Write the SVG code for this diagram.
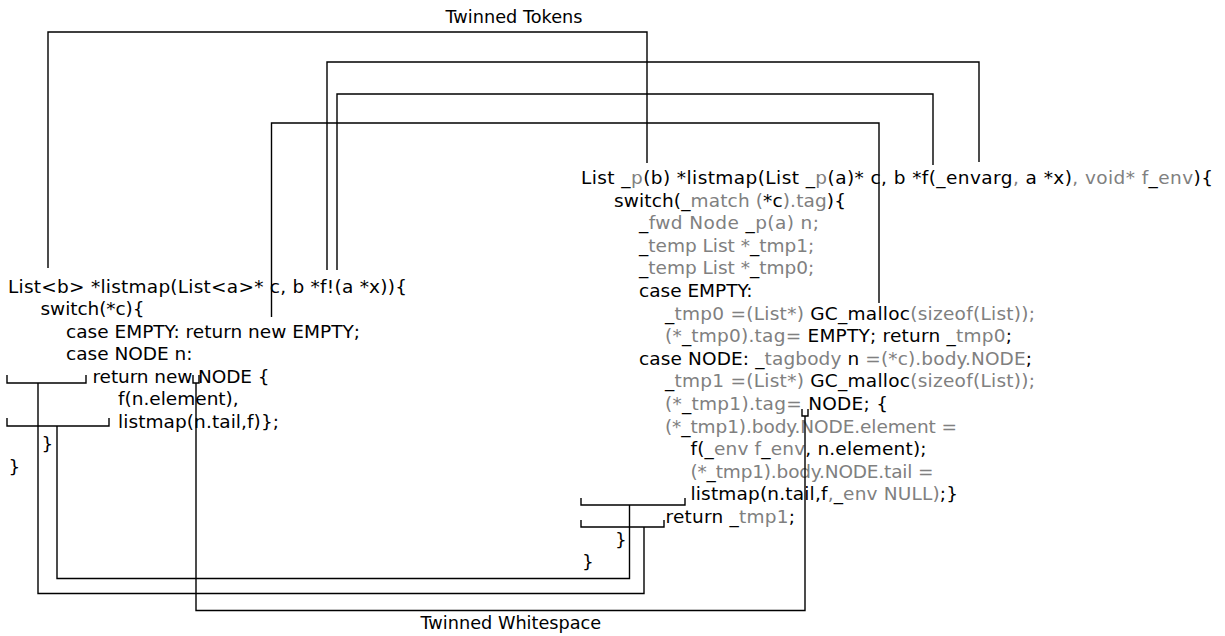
<svg xmlns="http://www.w3.org/2000/svg" width="1225" height="636" viewBox="0 0 1225 636">
  <style>
    text { font-family: "DejaVu Sans", Verdana, sans-serif; font-size: 18.5px; fill: #000; white-space: pre; }
    .lbl { font-size: 17.7px; }
    .g { fill: #808080; }
    .wire { fill: none; stroke: #000; stroke-width: 1.4; }
  </style>
  <rect width="1225" height="636" fill="#fff"/>

  <!-- source function -->
  <g id="source">
    <text x="8" y="292.5" textLength="399" lengthAdjust="spacing">List&lt;b&gt; *listmap(List&lt;a&gt;* c, b *f!(a *x)){</text>
    <text x="40.5" y="315" textLength="104" lengthAdjust="spacing">switch(*c){</text>
    <text x="66" y="337.5" textLength="294" lengthAdjust="spacing">case EMPTY: return new EMPTY;</text>
    <text x="66" y="360">case NODE n:</text>
    <text x="92.5" y="382.5" textLength="177" lengthAdjust="spacing">return new NODE {</text>
    <text x="118" y="405">f(n.element),</text>
    <text x="118" y="427.5" textLength="161" lengthAdjust="spacing">listmap(n.tail,f)};</text>
    <text x="41.5" y="450">}</text>
    <text x="8.5" y="472.5">}</text>
  </g>

  <!-- generated C function -->
  <g id="generated">
    <text x="581" y="184" textLength="632" lengthAdjust="spacing">List _<tspan class="g">p</tspan>(b) *listmap(List _<tspan class="g">p</tspan>(a)* c, b *f(_envarg<tspan class="g">,</tspan> a *x)<tspan class="g">, void* f</tspan>_<tspan class="g">env</tspan>){</text>
    <text x="614" y="206.6" textLength="232" lengthAdjust="spacing">switch(_<tspan class="g">match (</tspan>*c<tspan class="g">).tag</tspan>){</text>
    <text x="639" y="229.2" textLength="180" lengthAdjust="spacing">_<tspan class="g">fwd Node </tspan>_<tspan class="g">p(a) n;</tspan></text>
    <text x="639" y="251.8">_<tspan class="g">temp List *</tspan>_<tspan class="g">tmp1;</tspan></text>
    <text x="639" y="274.4">_<tspan class="g">temp List *</tspan>_<tspan class="g">tmp0;</tspan></text>
    <text x="639" y="297">case EMPTY:</text>
    <text x="665" y="319.6" textLength="370" lengthAdjust="spacing">_<tspan class="g">tmp0 =(List*) </tspan>GC_malloc<tspan class="g">(sizeof(List));</tspan></text>
    <text x="665" y="342.2" textLength="347" lengthAdjust="spacing"><tspan class="g">(*</tspan>_<tspan class="g">tmp0).tag= </tspan>EMPTY; return _<tspan class="g">tmp0</tspan>;</text>
    <text x="639" y="364.8" textLength="393" lengthAdjust="spacing">case NODE: _<tspan class="g">tagbody </tspan>n<tspan class="g"> =(*c).body.NODE</tspan>;</text>
    <text x="665" y="387.4" textLength="370" lengthAdjust="spacing">_<tspan class="g">tmp1 =(List*) </tspan>GC_malloc<tspan class="g">(sizeof(List));</tspan></text>
    <text x="665" y="410" textLength="223" lengthAdjust="spacing"><tspan class="g">(*</tspan>_<tspan class="g">tmp1).tag= </tspan>NODE; {</text>
    <text x="665" y="432.6" textLength="292" lengthAdjust="spacing"><tspan class="g">(*</tspan>_<tspan class="g">tmp1).body.NODE.element =</tspan></text>
    <text x="690.5" y="455.2" textLength="236" lengthAdjust="spacing">f(_<tspan class="g">env f</tspan>_<tspan class="g">env</tspan>, n.element);</text>
    <text x="690.5" y="477.8" textLength="243" lengthAdjust="spacing"><tspan class="g">(*</tspan>_<tspan class="g">tmp1).body.NODE.tail =</tspan></text>
    <text x="690.5" y="500.4" textLength="267.5" lengthAdjust="spacing">listmap(n.tail,f<tspan class="g">,</tspan>_<tspan class="g">env NULL)</tspan>;}</text>
    <text x="665.5" y="523" textLength="129.5" lengthAdjust="spacing">return _<tspan class="g">tmp1</tspan>;</text>
    <text x="615" y="545.6">}</text>
    <text x="582" y="568.2">}</text>
  </g>

  <g id="label-tokens">
    <text class="lbl" x="445.5" y="22.5">Twinned Tokens</text>
  </g>
  <g id="label-whitespace">
    <text class="lbl" x="420.5" y="629">Twinned Whitespace</text>
  </g>

  <!-- connectors -->
  <g id="connectors" class="wire">
    <!-- token twins -->
    <path d="M48,268 V32 H647 V163"/>
    <path d="M327,270 V62 H979 V162"/>
    <path d="M337,270 V94 H933 V165"/>
    <path d="M271.5,317 V123 H879 V303"/>
    <!-- whitespace twins: source side brackets -->
    <path d="M7,375 V383 H86 V375"/>
    <path d="M7,418 V426 H109 V418"/>
    <path d="M193,375 V383 H199 V375"/>
    <path d="M38,383 V593.5 H644 V527"/>
    <path d="M57,426 V578.5 H629.5 V505"/>
    <path d="M196,383 V610.5 H805 V416"/>
    <!-- generated side brackets -->
    <path d="M802,409 V416 H808 V409"/>
    <path d="M581,498 V505 H685 V498"/>
    <path d="M581,520 V527 H664 V520"/>
  </g>
</svg>
